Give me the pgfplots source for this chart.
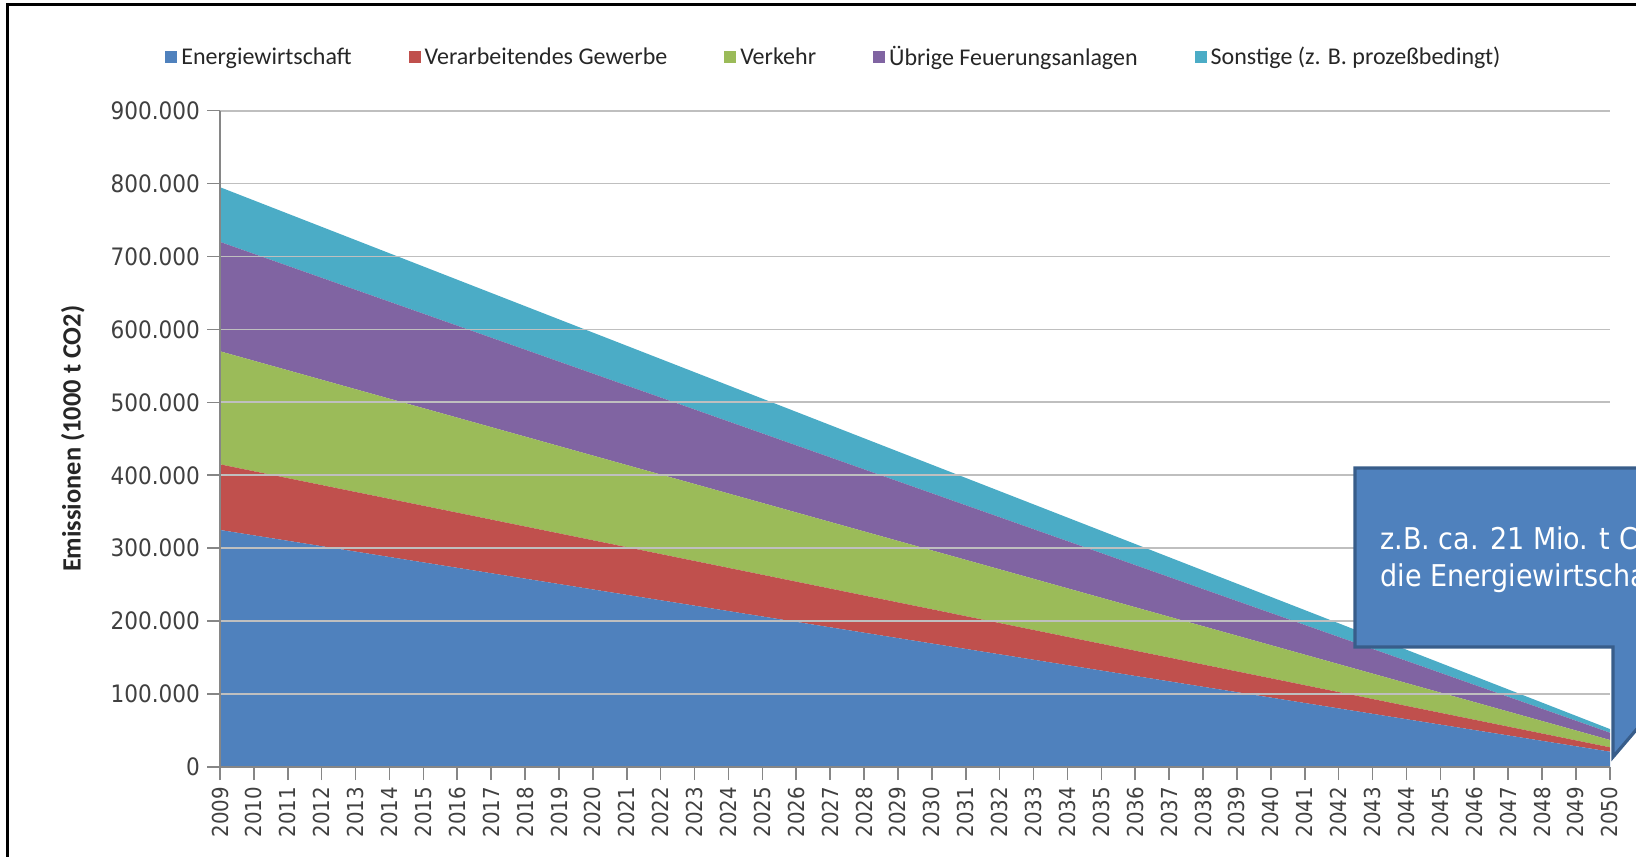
\documentclass[border=0pt]{standalone}
\usepackage{fontspec}
\setmainfont{Carlito}
\newfontfamily\tickfont{DejaVu Sans Condensed}
\usepackage{pgfplots}
\pgfplotsset{compat=1.18}
\definecolor{cE}{HTML}{4F81BD}
\definecolor{cV}{HTML}{C0504D}
\definecolor{cK}{HTML}{9BBB59}
\definecolor{cU}{HTML}{8064A2}
\definecolor{cS}{HTML}{4BACC6}
\definecolor{gridc}{HTML}{BFBFBF}
\definecolor{axc}{HTML}{868686}
\definecolor{txtc}{HTML}{404040}
\definecolor{legc}{HTML}{262626}
\definecolor{boxb}{HTML}{385D8A}
\begin{document}
\begin{tikzpicture}[x=1pt,y=1pt]
\useasboundingbox (0,0) rectangle (818,428);
\begin{axis}[
  at={(110pt,44.5pt)}, anchor=south west,
  scale only axis, width=695pt, height=328.2pt,
  xmin=2009, xmax=2050, ymin=0, ymax=900000,
  stack plots=y, area style,
  axis x line*=bottom, axis y line*=left,
  axis line style={draw=axc, line width=0.8pt},
  xtick={2009,...,2050}, ytick={0,100000,...,900000},
  tick align=outside, major tick length=6.5pt,
  tick style={draw=axc, line width=0.8pt},
  ymajorgrids, grid style={draw=gridc, line width=0.9pt},
  scaled y ticks=false,
  yticklabel style={font=\tickfont\fontsize{12}{12}\selectfont, text=txtc,
    /pgf/number format/.cd, fixed, precision=0, 1000 sep={.}, assume math mode=true},
  xticklabel style={font=\tickfont\fontsize{11}{11}\selectfont, text=txtc, rotate=90, anchor=east,
    /pgf/number format/.cd, 1000 sep={}, assume math mode=true},
  ylabel={Emissionen (1000 t CO2)},
  ylabel style={at={(axis description cs:-0.1058,0.5)}, anchor=center, rotate=0,
    font=\bfseries\fontsize{13.2}{14}\selectfont, text=legc},
  legend columns=5,
  legend style={at={(0.4424,1.081)}, anchor=center, draw=none, fill=none,
    font=\fontsize{12}{13}\selectfont, text=legc,
    /tikz/every even column/.append style={column sep=26.5pt}},
  legend image code/.code={\fill[#1,draw=none] (0pt,-3pt) rectangle (6pt,3pt);},
]
\addplot[fill=cE, draw=none] coordinates {(2009,325000) (2050,21000)} \closedcycle;
\addlegendentry{Energiewirtschaft}
\addplot[fill=cV, draw=none] coordinates {(2009,90000) (2050,6000)} \closedcycle;
\addlegendentry{Verarbeitendes Gewerbe}
\addplot[fill=cK, draw=none] coordinates {(2009,155000) (2050,10000)} \closedcycle;
\addlegendentry{Verkehr}
\addplot[fill=cU, draw=none] coordinates {(2009,150000) (2050,10000)} \closedcycle;
\addlegendentry{Übrige Feuerungsanlagen}
\addplot[fill=cS, draw=none] coordinates {(2009,75000) (2050,5000)} \closedcycle;
\addlegendentry{Sonstige (z. B. prozeßbedingt)}
\end{axis}
% frame
\draw[line width=1.4pt, black] (3.7,-5) -- (3.7,425.8) -- (830,425.8);
% callout
\draw[fill=cE, draw=boxb, line width=1.6pt]
  (677.5,194) -- (870,194) -- (870,104.5) -- (853.4,104.5) -- (806.5,49.5)
  -- (806.5,104.5) -- (677.5,104.5) -- cycle;
\node[anchor=base west, inner sep=0pt, text=white, font=\tickfont\fontsize{15}{15}\selectfont] at (690,153) {z.B. ca. 21 Mio. t CO2};
\node[anchor=base west, inner sep=0pt, text=white, font=\tickfont\fontsize{15}{15}\selectfont] at (690,134.5) {die Energiewirtschaft};
\end{tikzpicture}
\end{document}
